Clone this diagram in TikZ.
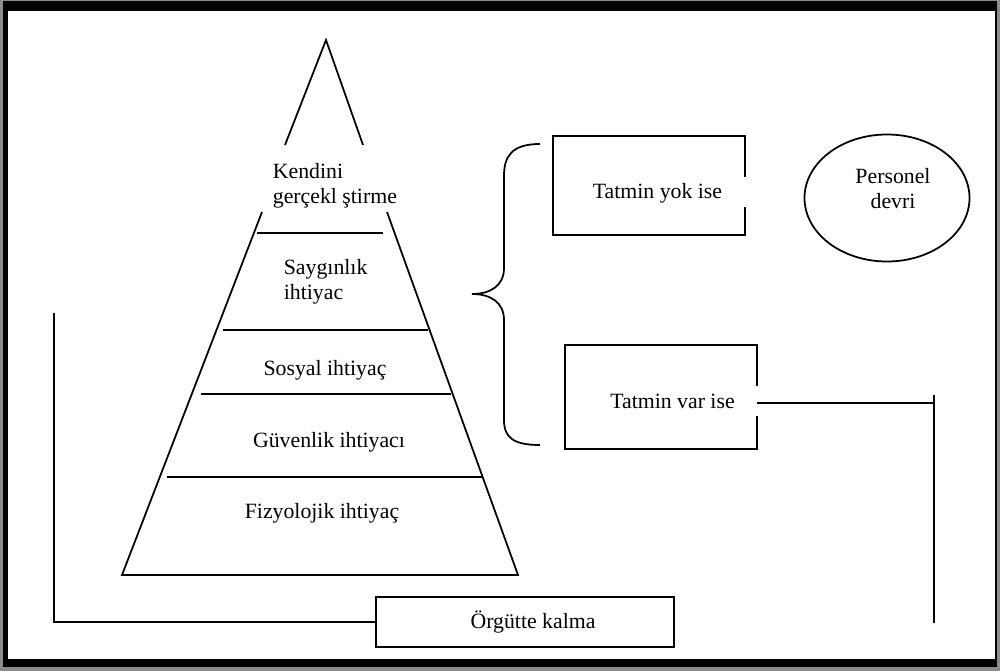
\documentclass[tikz,border=0pt]{standalone}
\usepackage{fontspec}
\setmainfont{Liberation Serif}
\usetikzlibrary{positioning, shapes.geometric, calc}

\tikzset{
  ihtiyac/.style={font=\fontsize{12.4}{14.5}\selectfont, inner sep=0pt},
  kutu/.style={font=\fontsize{12.4}{14.5}\selectfont, inner sep=0pt, rectangle},
}

\begin{document}
\begin{tikzpicture}[x=0.2mm, y=-0.2mm, line width=1pt]
    \useasboundingbox (0,0) rectangle (1000,671);

    % Cerceve
    \fill[black!45] (0,0) rectangle (1000,671);
    \fill[black] (3,1) rectangle (997,667);
    \fill[white] (8,11) rectangle (995,659);

    % Piramit koseleri
    \coordinate (T) at (326,40);
    \coordinate (T1) at (285,145);
    \coordinate (T2) at (363,145);
    \coordinate (K1) at (262,212);
    \coordinate (K2) at (387,212);
    \coordinate (BL) at (122,575);
    \coordinate (BR) at (518,575);

    % Piramit
    \draw (T1) -- (T) -- (T2);
    \draw (K1) -- (BL) -- (BR) -- (K2);

    % Basamak cizgileri
    \draw (257,233) -- (383,233);
    \draw (223,330) -- (428,330);
    \draw (201,394) -- (451,394);
    \draw (167,477) -- (483,477);

    % Ihtiyaclar
    \node[ihtiyac, align=left, anchor=west] (kendini) at (272,186) {Kendini\\gerçekl ştirme};
    \node[ihtiyac, align=left, anchor=west] (saygi) at (283,282) {Saygınlık\\ihtiyac};
    \node[ihtiyac, anchor=base] (sosyal) at (325,375) {Sosyal ihtiyaç};
    \node[ihtiyac, anchor=base] (guven) at (329,448) {Güvenlik ihtiyacı};
    \node[ihtiyac, anchor=base] (fizyo) at (322,518) {Fizyolojik ihtiyaç};

    % Kume parantezi
    \draw (540,144) .. controls (512,144) and (504,156) .. (504,176)
      -- (504,268) .. controls (504,286) and (490,294) .. (472,294)
      .. controls (490,294) and (504,302) .. (504,320)
      -- (504,420) .. controls (504,438) and (514,445) .. (540,445);

    % Sonuc kutulari
    \node[kutu, minimum width=38mm, minimum height=19.4mm] (yok) at (649,185.5)
      {\hspace*{3.4mm}\raisebox{-1.5mm}[\height][\depth]{Tatmin yok ise}};
    \node[kutu, minimum width=38mm, minimum height=20.4mm] (var) at (661,397)
      {\hspace*{4.6mm}\raisebox{-0.8mm}[\height][\depth]{Tatmin var ise}};
    \draw ($(yok.east)+(0,-8)$) -- (yok.north east) -- (yok.north west)
      -- (yok.south west) -- (yok.south east) -- ($(yok.east)+(0,22)$);
    \draw ($(var.east)+(0,-11)$) -- (var.north east) -- (var.north west)
      -- (var.south west) -- (var.south east) -- ($(var.east)+(0,19)$);

    \node[ellipse, draw, ihtiyac, minimum width=33mm, minimum height=25.4mm] (devir) at (887,198)
      {\hspace*{2.4mm}\raisebox{1.4mm}[\height][\depth]{\begin{tabular}{@{}c@{}}Personel\\devri\end{tabular}}};

    \node[kutu, draw, minimum width=59.6mm, minimum height=10mm] (orgut) at (525,622)
      {\hspace*{3.2mm}Örgütte kalma};

    % Baglantilar
    \coordinate (sagust) at (934,395);
    \coordinate (sagalt) at (934,623);
    \coordinate (varcikis) at ($(var.east)+(0,6)$);
    \coordinate (solust) at (54,313);
    \draw (varcikis) -- (varcikis -| sagust);
    \draw (sagust) -- (sagalt);
    \draw (solust) |- (orgut.west);

\end{tikzpicture}
\end{document}
